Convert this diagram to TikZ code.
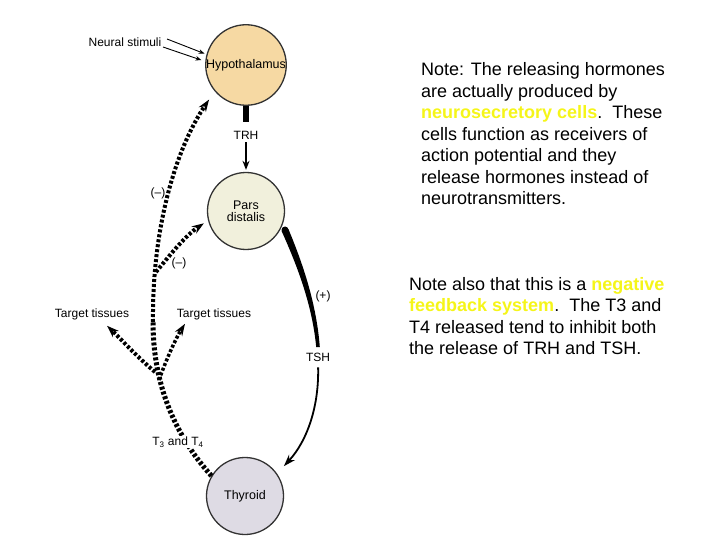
\documentclass[tikz,border=0pt]{standalone}
\usepackage{fontspec}
\setmainfont{Liberation Sans}
\usetikzlibrary{arrows.meta}
\definecolor{hypfill}{RGB}{246,217,163}
\definecolor{parfill}{RGB}{241,240,220}
\definecolor{thyfill}{RGB}{222,219,228}
\definecolor{hilite}{RGB}{245,245,25}
\begin{document}
\begin{tikzpicture}[x=1pt,y=-1pt,
  gland/.style={circle, draw=black!80, line width=1.3pt, minimum size=77pt, inner sep=0pt,
    font=\fontsize{12.5}{13}\selectfont, align=center},
  lbl/.style={font=\fontsize{12}{13}\selectfont, inner sep=1pt},
  note/.style={font=\fontsize{18}{21.5}\selectfont, anchor=base west, inner sep=0pt},
  fbline/.style={line width=5pt, dash pattern=on 3pt off 2pt},
  fbarrow/.style={line width=4pt, dash pattern=on 3pt off 2pt, -{Stealth[length=12pt,width=8.5pt]}},
  thinarrow/.style={line width=1.5pt, -{Stealth[length=9pt,width=7pt]}},
  smallarrow/.style={line width=0.9pt, -{Stealth[length=6pt,width=4.5pt]}},
]
\useasboundingbox (0,0) rectangle (720,540);

% glands
\node[gland, fill=hypfill] (hyp) at (246,65) {Hypothalamus};
\node[gland, fill=parfill] (par) at (246,211) {Pars\\[-1pt]distalis};
\node[gland, fill=thyfill] (thy) at (245,496) {Thyroid};

% labels
\node[lbl] (neural) at (125,42) {Neural stimuli};
\node[lbl] (trh) at (246,135) {TRH};
\node[lbl] (minus1) at (158,193) {(–)};
\node[lbl] (minus2) at (179,263) {(–)};
\node[lbl] (plus) at (323,296) {(+)};
\node[lbl] (tsh) at (318,357) {TSH};
\node[lbl] (tt1) at (92,314) {Target tissues};
\node[lbl] (tt2) at (214,314) {Target tissues};

% neural stimuli
\coordinate (ns1) at (167,39);
\coordinate (ns2) at (163,47);
\draw[smallarrow, shorten >=2pt] (ns1) -- (hyp.165);
\draw[smallarrow, shorten >=4pt] (ns2) -- (hyp.175);

% TRH
\draw[line width=6pt, shorten >=8pt] (hyp.south) -- (trh.north);
\draw[thinarrow, shorten <=2pt, shorten >=2pt] (trh.south) -- (par.north);

% TSH (tapered thick stroke, then thin arrow)
\fill (288.3,228.8) .. controls (300,257) and (316.2,299.6) .. (319.8,347)
  -- (316.2,347) .. controls (311.8,300.4) and (294,259) .. (281.7,231.2) -- cycle;
\fill (285,230) circle (3.5pt);
\draw[line width=1.8pt, -{Stealth[length=12pt,width=8pt]}, shorten <=5pt, shorten >=10pt]
  (tsh.south) .. controls (319,405) and (308,440) .. (thy.35);

% T3 and T4 feedback
\coordinate (j1) at (153,322);
\coordinate (j2) at (156,272);
\coordinate (j3) at (155,372);
\coordinate (j4) at (159,380);
\draw[fbline] (thy.149) .. controls (172,432) and (153,380) .. (j1);
\draw[fbarrow, shorten >=10pt] (j1) .. controls (152,230) and (175,150) .. (hyp.220);
\draw[fbarrow, shorten >=5pt] (j2) .. controls (170,255) and (185,236) .. (par.194);
\draw[fbarrow] (j3) .. controls (135,355) and (120,338) .. ([xshift=15pt,yshift=-5pt]tt1.south);
\draw[fbarrow, line width=3.5pt] (j4) .. controls (166,360) and (176,338) .. ([xshift=-29pt,yshift=-3pt]tt2.south);
\node[lbl, fill=white] (t34) at (178,442) {T\textsubscript{3} and T\textsubscript{4}};

% notes
\node[note] (n1) at (421,76) {Note: The releasing hormones};
\node[note] (n2) at (421,97.5) {are actually produced by};
\node[note] (n3) at (421,119) {\textcolor{hilite}{\bfseries neurosecretory cells}.\ \ These};
\node[note] (n4) at (421,140.5) {cells function as receivers of};
\node[note] (n5) at (421,162) {action potential and they};
\node[note] (n6) at (421,183.5) {release hormones instead of};
\node[note] (n7) at (421,205) {neurotransmitters.};
\node[note] (m1) at (409,290) {Note also that this is a \textcolor{hilite}{\bfseries negative}};
\node[note] (m2) at (409,311.5) {\textcolor{hilite}{\bfseries feedback system}.\ \ The T3 and};
\node[note] (m3) at (409,333) {T4 released tend to inhibit both};
\node[note] (m4) at (409,354.5) {the release of TRH and TSH.};
\end{tikzpicture}
\end{document}
